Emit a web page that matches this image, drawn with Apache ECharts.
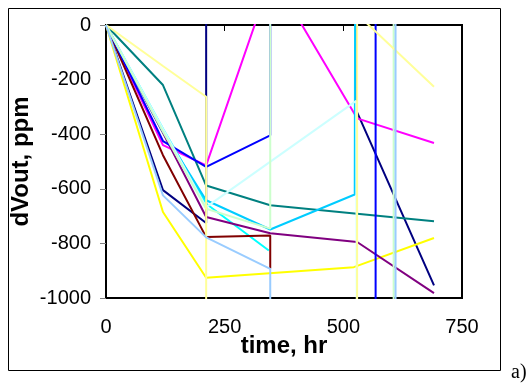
<!DOCTYPE html>
<html>
<head>
<meta charset="utf-8">
<script src="https://cdn.jsdelivr.net/npm/echarts@6/dist/echarts.min.js"></script>
<style>
  html, body { margin: 0; padding: 0; background: #fff; }
  #chart { width: 531px; height: 385px; }
</style>
</head>
<body>
<div id="chart"></div>
<script>
// axis ticks
const xTicks = [0, 250, 500, 750];
const yTicks = [-1000, -800, -600, -400, -200, 0];

// series names / colours (Excel default line order)
const seriesNames = ['s1', 's2', 's3', 's4', 's5', 's6', 's7', 's8', 's9', 's10', 's11', 's12', 's13'];
const seriesColors = ['#000080', '#FF00FF', '#FFFF00', '#00FFFF', '#800080', '#800000', '#008080',
  '#0000FF', '#00CCFF', '#CCFFFF', '#CCFFCC', '#FFFF99', '#99CCFF'];

// [time hr, dVout ppm]; +/-2000 = off the scale (clipped, shows as vertical lines)
const s1 = [[0, 0], [120, -605], [211, -725], [211, 2000], [527, 2000], [527, -312], [691, -954]];
const s2 = [[0, 0], [120, -440], [211, -514], [350, 185], [529, -342], [691, -432]];
const s3 = [[0, 0], [120, -685], [211, -926], [522, -887], [691, -780]];
const s4 = [[0, 0], [120, -380], [211, -655], [343, -826]];
const s5 = [[0, 0], [120, -395], [211, -703], [346, -763], [529, -795], [691, -982]];
const s6 = [[0, 0], [120, -477], [211, -777], [346, -771], [346, -892]];
const s7 = [[0, 0], [120, -220], [211, -588], [346, -660], [529, -691], [691, -719]];
const s8 = [[0, 0], [120, -425], [211, -520], [346, -404], [346, 2000], [568, 2000], [568, -2000]];
const s9 = [[0, 0], [120, -390], [211, -642], [346, -749], [524, -621], [527, 2000]];
const s10 = [[0, 0], [120, -380], [211, -667], [527, -278], [530, -2000]];
const s11 = [[0, 0], [120, -390], [211, -673], [346, -746], [346, 2000], [606, 2000], [606, -2000]];
const s12 = [[0, 0], [120, -150], [211, -263], [211, -2000], [529, -2000], [529, 40], [691, -226]];
const s13 = [[0, 0], [120, -624], [211, -778], [346, -893], [346, -2000], [610, -2000], [610, 2000]];

const seriesData = [s1, s2, s3, s4, s5, s6, s7, s8, s9, s10, s11, s12, s13];

const chart = echarts.init(document.getElementById('chart'), null, { renderer: 'canvas' });

const option = {
  animation: false,
  backgroundColor: '#fff',
  textStyle: { fontFamily: 'Liberation Sans, Arial, sans-serif' },
  grid: {
    left: 106, top: 25, right: 69, bottom: 87,
    outerBoundsMode: 'none',
    show: true, borderColor: '#000', borderWidth: 2, backgroundColor: '#fff'
  },
  xAxis: {
    type: 'value',
    min: xTicks[0], max: xTicks[xTicks.length - 1], interval: 250,
    name: 'time, hr',
    nameLocation: 'middle',
    nameGap: 36,
    nameMoveOverlap: false,
    nameTextStyle: { fontSize: 24, fontWeight: 'bold', color: '#000' },
    axisLine: { show: true, lineStyle: { color: '#000', width: 2 } },
    axisTick: { show: true, inside: false, length: 6, lineStyle: { color: '#000', width: 1 } },
    axisLabel: { fontSize: 20, color: '#000', margin: 19 },
    splitLine: { show: false }
  },
  yAxis: {
    type: 'value',
    min: yTicks[0], max: yTicks[yTicks.length - 1], interval: 200,
    name: 'dVout, ppm',
    nameLocation: 'middle',
    nameGap: 73,
    nameRotate: 90,
    nameMoveOverlap: false,
    nameTextStyle: { fontSize: 24, fontWeight: 'bold', color: '#000' },
    axisLine: { show: true, lineStyle: { color: '#000', width: 2 } },
    axisTick: { show: true, inside: false, length: 6, lineStyle: { color: '#808080', width: 1 } },
    axisLabel: { fontSize: 20, color: '#000', margin: 15, formatter: v => String(v) },
    splitLine: { show: false }
  },
  series: seriesData.map((d, i) => ({
    name: seriesNames[i],
    type: 'line',
    data: d,
    clip: true,
    symbol: 'none',
    color: seriesColors[i],
    lineStyle: { width: 2, color: seriesColors[i] }
  })),
  graphic: [
    {
      type: 'rect',
      shape: { x: 8.5, y: 8.5, width: 492, height: 362 },
      style: { fill: null, stroke: '#000', lineWidth: 1 },
      z: -1
    },
    {
      type: 'text',
      left: 511, top: 363,
      style: { text: 'a)', fontSize: 20, fontFamily: 'Liberation Serif, Times New Roman, serif', fill: '#000' }
    }
  ]
};

chart.setOption(option);
</script>
</body>
</html>
